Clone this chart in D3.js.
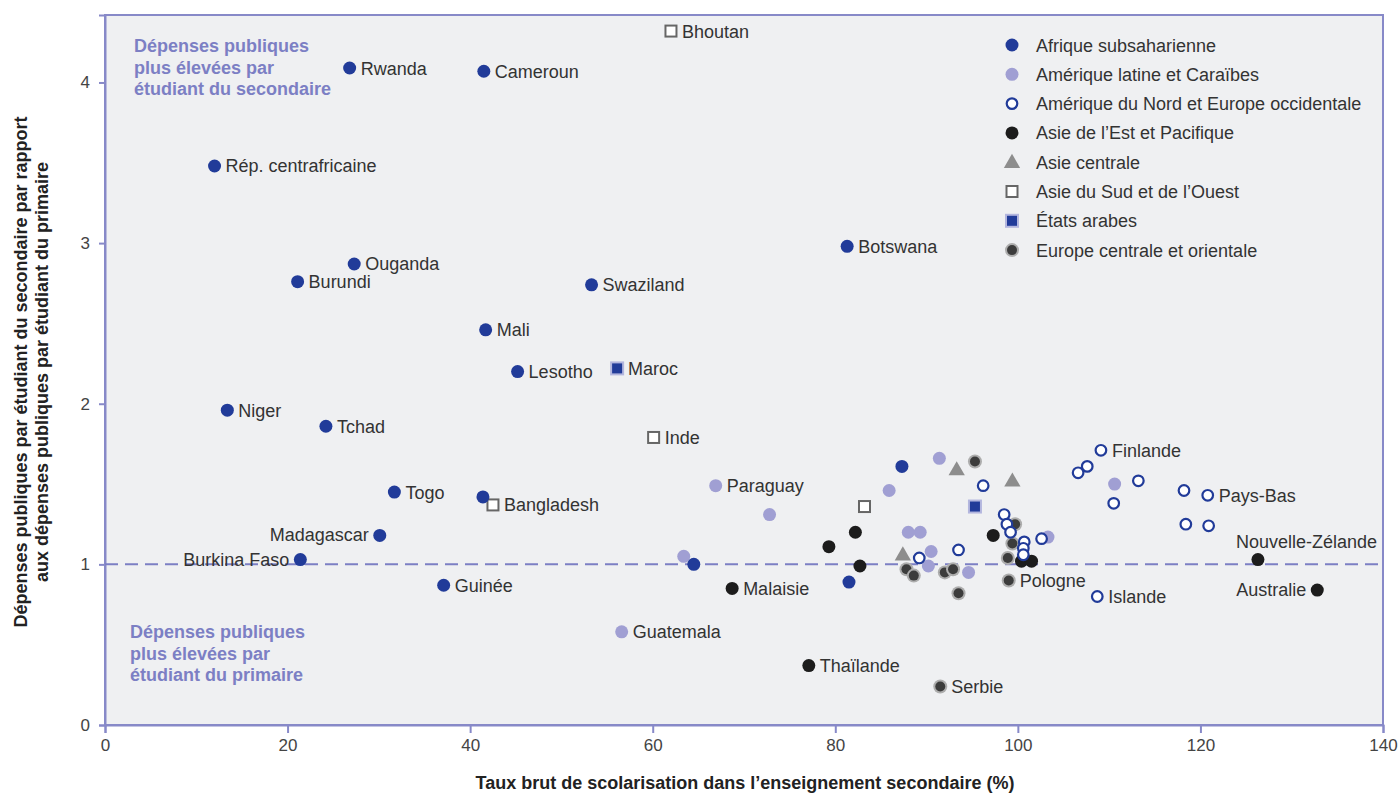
<!DOCTYPE html>
<html><head><meta charset="utf-8">
<script src="https://cdn.jsdelivr.net/npm/d3@7"></script>
<style>
body{margin:0;background:#fff;}
svg text{font-family:"Liberation Sans",Arial,Helvetica,sans-serif;}
</style></head>
<body><svg id="c" width="1399" height="794"></svg>
<script>
// ---- Data ----
const regionNames = ["Afrique subsaharienne","Amérique latine et Caraïbes","Amérique du Nord et Europe occidentale","Asie de l’Est et Pacifique","Asie centrale","Asie du Sud et de l’Ouest","États arabes","Europe centrale et orientale"];

const afrX = [26.8,41.5,12.0,27.3,21.1,81.3,53.3,41.7,45.2,13.4,24.2,31.7,41.4,30.1,21.4,37.1,64.5,81.5,87.3];
const afrY = [4.09,4.07,3.48,2.87,2.76,2.98,2.74,2.46,2.20,1.96,1.86,1.45,1.42,1.18,1.03,0.87,1.00,0.89,1.61];
const afrL = ["Rwanda","Cameroun","Rép. centrafricaine","Ouganda","Burundi","Botswana","Swaziland","Mali","Lesotho","Niger","Tchad","Togo","","Madagascar","Burkina Faso","Guinée","","",""];

const latX = [66.9,72.8,63.4,56.6,85.9,91.4,88.0,89.3,90.5,90.2,94.6,103.3,110.6];
const latY = [1.49,1.31,1.05,0.58,1.46,1.66,1.20,1.20,1.08,0.99,0.95,1.17,1.50];
const latL = ["Paraguay","","","Guatemala","","","","","","","","",""];

const naeX = [96.2,89.2,93.5,98.5,98.8,99.2,100.7,100.6,100.6,102.6,109.1,107.6,106.6,113.2,110.5,118.2,120.8,118.4,120.9,108.7];
const naeY = [1.49,1.04,1.09,1.31,1.25,1.20,1.14,1.10,1.06,1.16,1.71,1.61,1.57,1.52,1.38,1.46,1.43,1.25,1.24,0.80];
const naeL = ["","","","","","","","","","","Finlande","","","","","","Pays-Bas","","","Islande"];

const easX = [68.7,77.1,79.3,82.2,82.7,97.3,100.4,101.5,126.3,132.8];
const easY = [0.85,0.37,1.11,1.20,0.99,1.18,1.02,1.02,1.03,0.84];
const easL = ["Malaisie","Thaïlande","","","","","","","Nouvelle-Zélande","Australie"];

const casX = [93.3,99.4,87.4];
const casY = [1.59,1.52,1.06];

const sasX = [62.0,60.1,42.5,83.2];
const sasY = [4.32,1.79,1.37,1.36];
const sasL = ["Bhoutan","Inde","Bangladesh",""];

const araX = [56.1,95.3];
const araY = [2.22,1.36];
const araL = ["Maroc",""];

const ceeX = [95.3,87.8,88.6,92.0,92.9,93.5,99.7,99.4,98.9,99.0,91.5];
const ceeY = [1.64,0.97,0.93,0.95,0.97,0.82,1.25,1.13,1.04,0.90,0.24];
const ceeL = ["","","","","","","","","","Pologne","Serbie"];

const xTicks = [0,20,40,60,80,100,120,140];
const yTicks = [0,1,2,3,4];

// label placement overrides (left / above)
const leftLabels = ["Burkina Faso","Madagascar","Australie"];
const aboveLabels = ["Nouvelle-Zélande"];

// ---- Layout ----
const svg = d3.select("#c");
const L=105, R=1383, T=15, B=725;
const x = d3.scaleLinear().domain([0,140]).range([L,R]);
const y = d3.scaleLinear().domain([0,4.42]).range([B,T]);
const frame="#8789c8", annot="#7c7fc4", txt="#333";

svg.append("rect").attr("x",L).attr("y",T).attr("width",R-L).attr("height",B-T)
  .attr("fill","#eff0f2").attr("stroke",frame).attr("stroke-width",2);

// axes
const xAxis = svg.append("g").attr("transform",`translate(0,${B})`)
  .call(d3.axisBottom(x).tickValues(xTicks).tickSize(8).tickPadding(6).tickFormat(d3.format("d")));
const yAxis = svg.append("g").attr("transform",`translate(${L},0)`)
  .call(d3.axisLeft(y).tickValues(yTicks).tickSize(6).tickPadding(9).tickFormat(d3.format("d")));
[xAxis,yAxis].forEach(a=>{
  a.select(".domain").attr("stroke",frame).attr("stroke-width",2);
  a.selectAll(".tick line").attr("stroke",frame).attr("stroke-width",2);
  a.selectAll(".tick text").attr("fill","#444").style("font-size","17px").style("font-family","Liberation Sans, Arial, sans-serif");
});

// reference line
svg.append("line").attr("x1",L).attr("x2",R).attr("y1",y(1)).attr("y2",y(1))
  .attr("stroke",annot).attr("stroke-width",2).attr("stroke-dasharray","13,7");

// annotations
function annotText(lines, x0, y0){
  const t = svg.append("text").attr("x",x0).attr("y",y0).attr("fill",annot)
    .style("font-size","18px").style("font-weight","bold");
  lines.forEach((s,i)=>t.append("tspan").attr("x",x0).attr("dy",i?21.5:0).text(s));
}
annotText(["Dépenses publiques","plus élevées par","étudiant du secondaire"],134,52);
annotText(["Dépenses publiques","plus élevées par","étudiant du primaire"],130,638);

// axis titles
svg.append("text").attr("x",745).attr("y",789).attr("text-anchor","middle")
  .attr("fill","#222").style("font-size","18px").style("font-weight","bold")
  .text("Taux brut de scolarisation dans l’enseignement secondaire (%)");
const yt = svg.append("text").attr("transform",`translate(27,372) rotate(-90)`).attr("text-anchor","middle")
  .attr("fill","#222").style("font-size","18px").style("font-weight","bold");
yt.append("tspan").attr("x",0).attr("dy",0).text("Dépenses publiques par étudiant du secondaire par rapport");
yt.append("tspan").attr("x",0).attr("dy",21).text("aux dépenses publiques par étudiant du primaire");

// marker drawing functions
const blue="#213b99", lav="#a09fd3", black="#1c1c1c", grey="#8d8d8d";
const markers = {
  afr:(g)=>g.append("circle").attr("r",6.5).attr("fill",blue),
  lat:(g)=>g.append("circle").attr("r",6.5).attr("fill",lav),
  nae:(g)=>g.append("circle").attr("r",5.3).attr("fill","#fff").attr("stroke",blue).attr("stroke-width",2.2),
  eas:(g)=>g.append("circle").attr("r",6.5).attr("fill",black),
  cas:(g)=>g.append("path").attr("d",d3.symbol().type(d3.symbolTriangle).size(115)()).attr("fill",grey).attr("transform","translate(0,1)"),
  sas:(g)=>g.append("rect").attr("x",-5.5).attr("y",-5.5).attr("width",11).attr("height",11).attr("fill","#fff").attr("stroke","#666").attr("stroke-width",2),
  ara:(g)=>{g.append("rect").attr("x",-7).attr("y",-7).attr("width",14).attr("height",14).attr("fill","#b3b6de");
            g.append("rect").attr("x",-5).attr("y",-5).attr("width",10).attr("height",10).attr("fill",blue);},
  cee:(g)=>{g.append("circle").attr("r",7).attr("fill","#adadad");
            g.append("circle").attr("r",5).attr("fill","#3c3c3c");}
};

const series = [
  {k:"cee",xs:ceeX,ys:ceeY,ls:ceeL},
  {k:"cas",xs:casX,ys:casY,ls:casX.map(()=>"")},
  {k:"lat",xs:latX,ys:latY,ls:latL},
  {k:"eas",xs:easX,ys:easY,ls:easL},
  {k:"sas",xs:sasX,ys:sasY,ls:sasL},
  {k:"ara",xs:araX,ys:araY,ls:araL},
  {k:"afr",xs:afrX,ys:afrY,ls:afrL},
  {k:"nae",xs:naeX,ys:naeY,ls:naeL}
];

const labelLayer = [];
series.forEach(s=>{
  s.xs.forEach((xv,i)=>{
    const g = svg.append("g").attr("transform",`translate(${x(xv)},${y(s.ys[i])})`);
    markers[s.k](g);
    const lab = s.ls[i];
    if(lab) labelLayer.push({lab, px:x(xv), py:y(s.ys[i])});
  });
});
labelLayer.forEach(d=>{
  const t = svg.append("text").attr("fill",txt).style("font-size","18px").text(d.lab);
  if(leftLabels.includes(d.lab)) t.attr("x",d.px-11).attr("y",d.py+6).attr("text-anchor","end");
  else if(aboveLabels.includes(d.lab)) t.attr("x",d.px-22).attr("y",d.py-12);
  else t.attr("x",d.px+11).attr("y",d.py+6.5);
});

// legend
const legKeys=["afr","lat","nae","eas","cas","sas","ara","cee"];
regionNames.forEach((n,i)=>{
  const yy = 45 + i*29.3;
  const g = svg.append("g").attr("transform",`translate(1012,${yy})`);
  markers[legKeys[i]](g);
  svg.append("text").attr("x",1036).attr("y",yy+6.5).attr("fill",txt).style("font-size","18px").text(n);
});
</script></body></html>
